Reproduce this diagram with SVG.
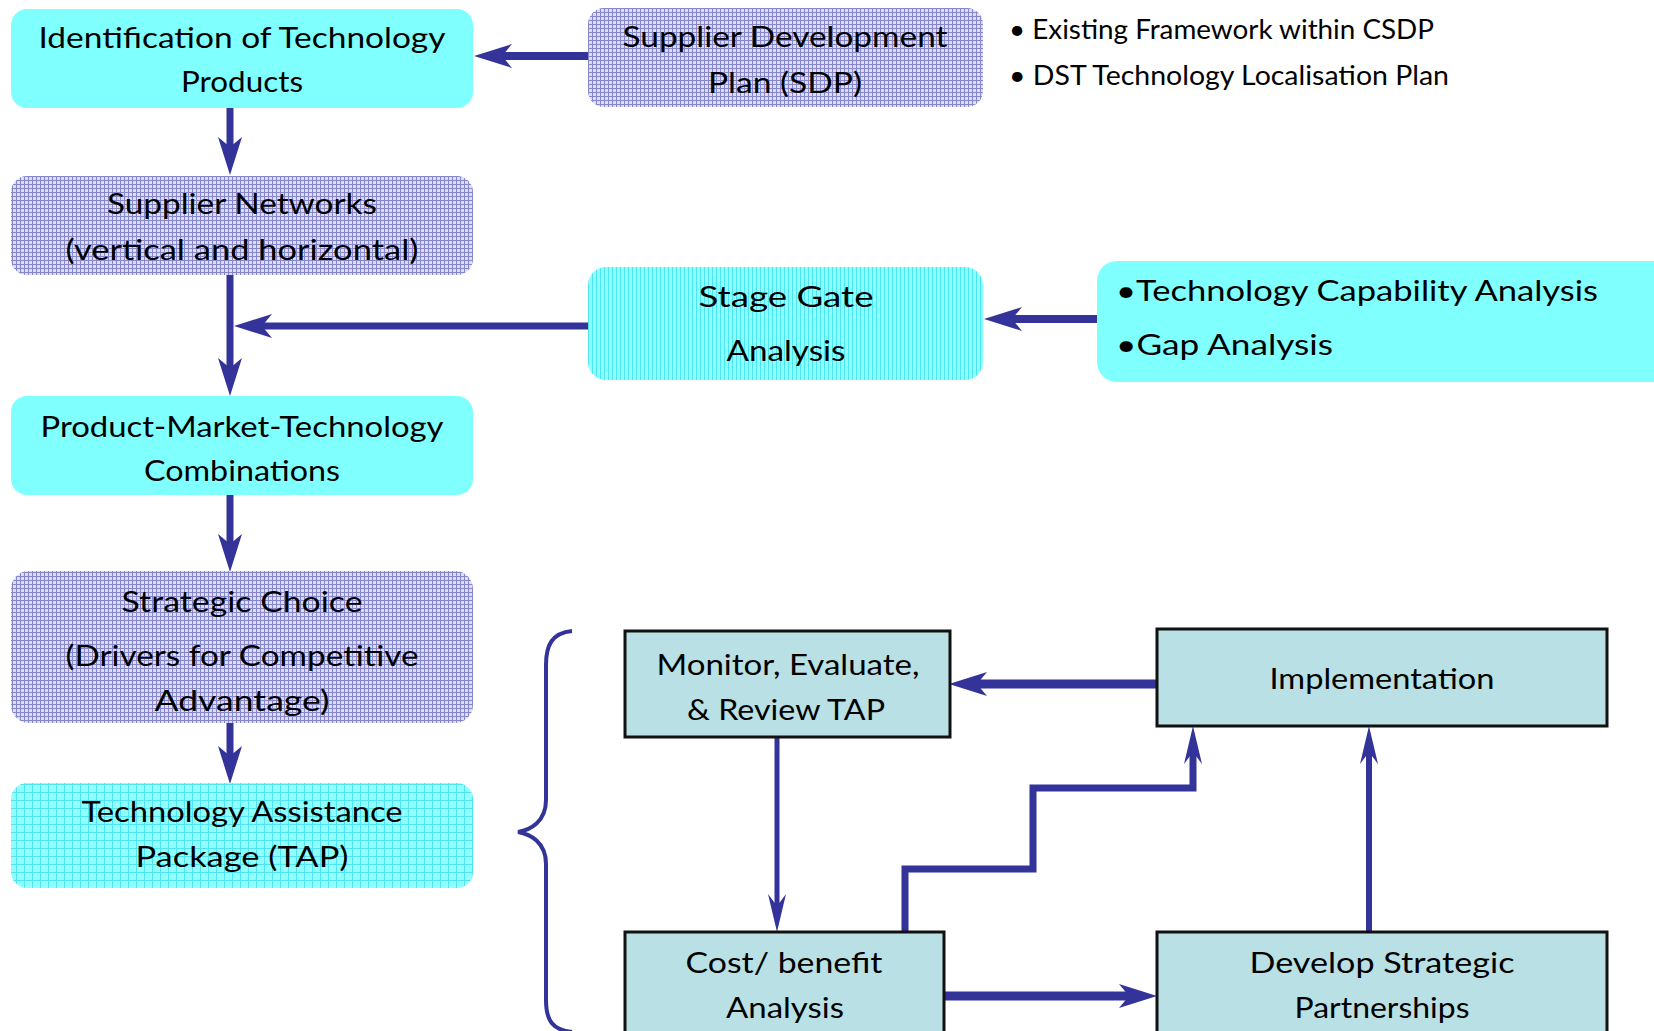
<svg xmlns="http://www.w3.org/2000/svg" width="1654" height="1031" viewBox="0 0 1654 1031">
<style>
text{font-family:Lato,"Liberation Sans",sans-serif;fill:#000;}
.t{font-size:29px;text-anchor:middle;}
.b{font-size:26px;}
.tb{font-size:29px;}
.cy{fill:#80FFFF;}
.lav{fill:url(#patLav);}
.stripe{fill:url(#patStripe);}
.grid{fill:url(#patGrid);}
.sq{fill:#B9E0E4;stroke:#111;stroke-width:3;}
.c{fill:none;stroke:#333399;}
.brace{fill:none;stroke:#333399;stroke-width:4;}
</style>
<defs>
<pattern id="patLav" patternUnits="userSpaceOnUse" width="4" height="4">
<rect width="4" height="4" fill="#DCDCF2"/>
<rect width="4" height="1" fill="#8686CC"/>
<rect width="1" height="4" fill="#8686CC"/>
</pattern>
<pattern id="patStripe" patternUnits="userSpaceOnUse" width="4" height="4">
<rect width="4" height="4" fill="#8CFFFF"/>
<rect width="1" height="4" fill="#4CE4F0"/>
</pattern>
<pattern id="patGrid" patternUnits="userSpaceOnUse" width="8" height="8">
<rect width="8" height="8" fill="#90FFFF"/>
<rect width="8" height="1" fill="#50E4F2"/>
<rect width="1" height="8" fill="#50E4F2"/>
</pattern>
<marker id="ah" markerUnits="userSpaceOnUse" markerWidth="40" markerHeight="26" viewBox="0 -13 40 26" refX="10" refY="0" orient="auto">
<path d="M0,-12 L38,0 L0,12 L10,0 Z" fill="#333399"/>
</marker>
<marker id="ahs" markerUnits="userSpaceOnUse" markerWidth="40" markerHeight="20" viewBox="0 -10 40 20" refX="12" refY="0" orient="auto">
<path d="M0,-9 L38,0 L0,9 L12,0 Z" fill="#333399"/>
</marker>
</defs>
<rect width="1654" height="1031" fill="#fff"/>

<g id="connectors">
<path class="c" stroke-width="8" d="M588,56 H502" marker-end="url(#ah)"/>
<path class="c" stroke-width="7" d="M230,108 V147" marker-end="url(#ah)"/>
<path class="c" stroke-width="7" d="M230,275 V368" marker-end="url(#ah)"/>
<path class="c" stroke-width="7" d="M588,326 H262" marker-end="url(#ah)"/>
<path class="c" stroke-width="8" d="M1097,319 H1012" marker-end="url(#ah)"/>
<path class="c" stroke-width="7" d="M230,495 V544" marker-end="url(#ah)"/>
<path class="c" stroke-width="7" d="M230,723 V756" marker-end="url(#ah)"/>
<path class="c" stroke-width="9" d="M1157,684 H977" marker-end="url(#ah)"/>
<path class="c" stroke-width="5" d="M777,737 V906" marker-end="url(#ahs)"/>
<path class="c" stroke-width="9" d="M944,996 H1129" marker-end="url(#ah)"/>
<path class="c" stroke-width="6" d="M1369,932 V752" marker-end="url(#ahs)"/>
<path class="c" stroke-width="7" d="M905,932 V869 H1033 V788 H1193 V752" marker-end="url(#ahs)"/>
<path class="brace" d="M572,631 C552,633 546,645 546,665 L546,800 C546,822 530,830 518,832 C530,834 546,842 546,864 L546,1000 C546,1020 552,1030 572,1032"/>
</g>

<g id="n-identification">
<rect class="cy" x="11" y="9" width="462" height="99" rx="16"/>
<text class="t" x="242" y="48" textLength="407" lengthAdjust="spacingAndGlyphs">Identification of Technology</text>
<text class="t" x="242" y="92" textLength="122" lengthAdjust="spacingAndGlyphs">Products</text>
</g>

<g id="n-sdp">
<rect class="lav" x="588" y="8" width="395" height="99" rx="16"/>
<text class="t" x="785" y="47" textLength="325" lengthAdjust="spacingAndGlyphs">Supplier Development</text>
<text class="t" x="785" y="93" textLength="154" lengthAdjust="spacingAndGlyphs">Plan (SDP)</text>
</g>

<g id="n-sdp-notes">
<text class="b" x="1009" y="39" textLength="425" lengthAdjust="spacingAndGlyphs">• Existing Framework within CSDP</text>
<text class="b" x="1009" y="85" textLength="440" lengthAdjust="spacingAndGlyphs">• DST Technology Localisation Plan</text>
</g>

<g id="n-supplier-networks">
<rect class="lav" x="11" y="176" width="462" height="99" rx="16"/>
<text class="t" x="242" y="214" textLength="270" lengthAdjust="spacingAndGlyphs">Supplier Networks</text>
<text class="t" x="242" y="260" textLength="353" lengthAdjust="spacingAndGlyphs">(vertical and horizontal)</text>
</g>

<g id="n-stage-gate">
<rect class="stripe" x="588" y="267" width="395" height="113" rx="18"/>
<text class="t" x="786" y="307" textLength="175" lengthAdjust="spacingAndGlyphs">Stage Gate</text>
<text class="t" x="786" y="361" textLength="119" lengthAdjust="spacingAndGlyphs">Analysis</text>
</g>

<g id="n-capability">
<rect class="cy" x="1097" y="261" width="580" height="121" rx="20"/>
<text class="tb" x="1116" y="301" textLength="482" lengthAdjust="spacingAndGlyphs">•Technology Capability Analysis</text>
<text class="tb" x="1116" y="355" textLength="217" lengthAdjust="spacingAndGlyphs">•Gap Analysis</text>
</g>

<g id="n-pmt">
<rect class="cy" x="11" y="396" width="462" height="99" rx="16"/>
<text class="t" x="242" y="437" textLength="403" lengthAdjust="spacingAndGlyphs">Product-Market-Technology</text>
<text class="t" x="242" y="481" textLength="196" lengthAdjust="spacingAndGlyphs">Combinations</text>
</g>

<g id="n-strategic-choice">
<rect class="lav" x="11" y="571" width="462" height="152" rx="18"/>
<text class="t" x="242" y="612" textLength="241" lengthAdjust="spacingAndGlyphs">Strategic Choice</text>
<text class="t" x="242" y="666" textLength="353" lengthAdjust="spacingAndGlyphs">(Drivers for Competitive</text>
<text class="t" x="242" y="711" textLength="175" lengthAdjust="spacingAndGlyphs">Advantage)</text>
</g>

<g id="n-tap">
<rect class="grid" x="11" y="783" width="462" height="105" rx="16"/>
<text class="t" x="242" y="822" textLength="321" lengthAdjust="spacingAndGlyphs">Technology Assistance</text>
<text class="t" x="242" y="867" textLength="213" lengthAdjust="spacingAndGlyphs">Package (TAP)</text>
</g>

<g id="n-monitor">
<rect class="sq" x="625" y="631" width="325" height="106"/>
<text class="t" x="788" y="675" textLength="263" lengthAdjust="spacingAndGlyphs">Monitor, Evaluate,</text>
<text class="t" x="786" y="720" textLength="198" lengthAdjust="spacingAndGlyphs">&amp; Review TAP</text>
</g>

<g id="n-implementation">
<rect class="sq" x="1157" y="629" width="450" height="97"/>
<text class="t" x="1382" y="689" textLength="225" lengthAdjust="spacingAndGlyphs">Implementation</text>
</g>

<g id="n-cost-benefit">
<rect class="sq" x="625" y="932" width="319" height="110"/>
<text class="t" x="784" y="973" textLength="197" lengthAdjust="spacingAndGlyphs">Cost/ benefit</text>
<text class="t" x="785" y="1018" textLength="118" lengthAdjust="spacingAndGlyphs">Analysis</text>
</g>

<g id="n-partnerships">
<rect class="sq" x="1157" y="932" width="450" height="110"/>
<text class="t" x="1382" y="973" textLength="265" lengthAdjust="spacingAndGlyphs">Develop Strategic</text>
<text class="t" x="1382" y="1018" textLength="175" lengthAdjust="spacingAndGlyphs">Partnerships</text>
</g>
</svg>
